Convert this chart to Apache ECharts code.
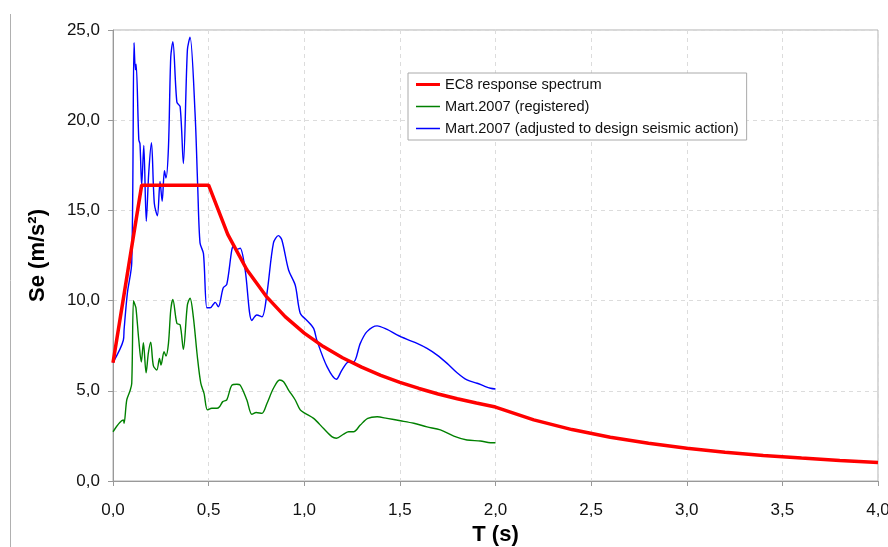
<!DOCTYPE html>
<html>
<head>
<meta charset="utf-8">
<script src="https://cdn.jsdelivr.net/npm/echarts@6/dist/echarts.min.js"></script>
<style>
  html, body { margin: 0; padding: 0; background: #fff; }
  #chart { width: 888px; height: 547px; }
</style>
</head>
<body>
<div id="chart"></div>
<script>
// EC8 design spectrum (T in s, Se in m/s²)
const ec8T = [0, 0.15, 0.5, 0.6, 0.7, 0.8, 0.9, 1.0, 1.1, 1.2, 1.3, 1.4, 1.5, 1.6, 1.7, 1.8, 1.9, 2.0,
  2.2, 2.4, 2.6, 2.8, 3.0, 3.2, 3.4, 3.6, 3.8, 4.0]
const ec8Se = [6.56, 16.4, 16.4, 13.67, 11.71, 10.25, 9.11, 8.2, 7.45, 6.83, 6.31, 5.86, 5.47, 5.13, 4.82, 4.56, 4.32, 4.1,
  3.39, 2.85, 2.43, 2.09, 1.82, 1.60, 1.42, 1.27, 1.14, 1.03]

// Mart.2007 registered record
const regT = [0, 0.054, 0.058, 0.072, 0.089, 0.098, 0.107, 0.114, 0.120, 0.135, 0.148, 0.159, 0.173, 0.185, 0.197,
  0.211, 0.229, 0.243, 0.251, 0.267, 0.277, 0.290, 0.302, 0.313, 0.334, 0.351, 0.368, 0.389, 0.403, 0.420,
  0.441, 0.459, 0.476, 0.494, 0.517, 0.543, 0.557, 0.574, 0.595, 0.621, 0.648, 0.665, 0.700, 0.726, 0.749,
  0.779, 0.805, 0.839, 0.871, 0.892, 0.918, 0.953, 0.979, 1.005, 1.049, 1.100, 1.144, 1.168, 1.206, 1.232,
  1.258, 1.293, 1.332, 1.381, 1.433, 1.503, 1.573, 1.642, 1.712, 1.782, 1.851, 1.921, 1.974, 2.0]
const regSe = [2.73, 3.38, 3.2, 4.5, 5.0, 5.4, 10.0, 9.8, 9.6, 7.8, 6.6, 7.66, 6.0, 7.1, 7.7,
  6.4, 6.15, 6.8, 6.43, 7.17, 6.93, 7.63, 9.48, 10.07, 8.74, 8.65, 7.3, 9.76, 10.13, 9.1,
  6.9, 5.42, 4.86, 3.94, 4.03, 4.03, 4.12, 4.4, 4.5, 5.3, 5.36, 5.32, 4.49, 3.7, 3.8,
  3.75, 4.3, 5.14, 5.6, 5.5, 5.04, 4.49, 3.94, 3.75, 3.47, 2.92, 2.46, 2.37, 2.6, 2.73,
  2.73, 3.1, 3.47, 3.56, 3.47, 3.34, 3.2, 3.0, 2.83, 2.49, 2.27, 2.22, 2.12, 2.12]

// Mart.2007 adjusted to design seismic action
const adjT = [0, 0.054, 0.058, 0.075, 0.098, 0.110, 0.117, 0.121, 0.135, 0.141, 0.150, 0.161, 0.174, 0.187, 0.201,
  0.216, 0.232, 0.246, 0.257, 0.269, 0.277, 0.290, 0.302, 0.313, 0.334, 0.351, 0.368, 0.389, 0.403, 0.429,
  0.443, 0.455, 0.473, 0.491, 0.508, 0.525, 0.534, 0.551, 0.576, 0.595, 0.621, 0.630, 0.648, 0.665, 0.691,
  0.726, 0.752, 0.779, 0.805, 0.839, 0.865, 0.883, 0.918, 0.953, 0.979, 1.014, 1.049, 1.066, 1.119, 1.168,
  1.197, 1.232, 1.258, 1.293, 1.328, 1.381, 1.433, 1.485, 1.538, 1.590, 1.642, 1.695, 1.747, 1.799, 1.851,
  1.904, 1.939, 1.974, 2.0]
const adjSe = [6.56, 7.8, 8.4, 10.4, 12.1, 24.3, 22.8, 23.1, 18.9, 18.7, 16.4, 18.6, 14.4, 17.1, 18.75,
  15.4, 14.7, 16.6, 15.5, 17.2, 16.8, 18.5, 23.5, 24.35, 21.0, 20.75, 17.6, 23.9, 24.6, 20.4,
  16.3, 13.2, 12.6, 9.6, 9.6, 9.8, 9.9, 9.66, 10.7, 10.9, 12.8, 13.0, 12.84, 12.9, 11.7,
  8.9, 9.2, 9.1, 10.4, 13.2, 13.6, 13.36, 11.7, 10.85, 9.3, 8.9, 8.46, 7.8, 6.34, 5.64,
  6.15, 6.6, 6.6, 7.63, 8.28, 8.6, 8.4, 8.1, 7.85, 7.63, 7.35, 6.98, 6.52, 6.0, 5.6,
  5.42, 5.27, 5.14, 5.1]

const xTicks = [0, 0.5, 1.0, 1.5, 2.0, 2.5, 3.0, 3.5, 4.0]
const yTicks = [0, 5, 10, 15, 20, 25]

const fontFamily = '"Liberation Sans", Arial, sans-serif'
const comma = v => v.toFixed(1).replace('.', ',')
const pairs = (xs, ys) => xs.map((x, i) => [x, ys[i]])

// legend line icons: tiny specks keep the box 12 high so the stroke stays thin
const thickIcon = 'path://M0,0h0.01v0.01h-0.01zM0,4.5h24v3h-24zM0,12h0.01v0.01h-0.01z'
const thinIcon = 'path://M0,0h0.01v0.01h-0.01zM0,5.3h24v1.4h-24zM0,12h0.01v0.01h-0.01z'

const chart = echarts.init(document.getElementById('chart'))

chart.setOption({
  animation: false,
  backgroundColor: '#fff',
  textStyle: { fontFamily },
  grid: {
    left: 113, right: 10, top: 30, bottom: 66,
    containLabel: false, outerBoundsMode: 'none',
    show: true, borderColor: '#b0b0b0', borderWidth: 1, backgroundColor: 'transparent'
  },
  graphic: [
    { type: 'line', shape: { x1: 10.5, y1: 14, x2: 10.5, y2: 547 }, style: { stroke: '#b0b0b0', lineWidth: 1 } }
  ],
  legend: {
    orient: 'vertical',
    left: 408, top: 73,
    padding: [4, 8, 4, 8],
    itemGap: 7,
    itemWidth: 24, itemHeight: 12,
    borderColor: '#aaa', borderWidth: 1, backgroundColor: '#fff',
    textStyle: { fontSize: 14.6, color: '#111', fontFamily },
    data: [
      { name: 'EC8 response spectrum', icon: thickIcon, itemStyle: { color: '#ff0000' } },
      { name: 'Mart.2007 (registered)', icon: thinIcon, itemStyle: { color: '#008000' } },
      { name: 'Mart.2007 (adjusted to design seismic action)', icon: thinIcon, itemStyle: { color: '#0000ff' } }
    ]
  },
  xAxis: {
    type: 'value',
    min: 0, max: 4, interval: 0.5,
    name: 'T (s)',
    nameLocation: 'middle',
    nameGap: 42,
    nameTextStyle: { fontSize: 22, fontWeight: 'bold', color: '#000', fontFamily },
    axisLine: { lineStyle: { color: '#999' } },
    axisTick: { show: true, length: 5, lineStyle: { color: '#999' } },
    axisLabel: { fontSize: 17, color: '#111', margin: 21, formatter: v => comma(v),
      customValues: xTicks },
    splitLine: { show: true, lineStyle: { color: '#dcdcdc', type: [4, 4] } }
  },
  yAxis: {
    type: 'value',
    min: 0, max: 25, interval: 5,
    name: 'Se (m/s²)',
    nameLocation: 'middle',
    nameGap: 64,
    nameTextStyle: { fontSize: 22, fontWeight: 'bold', color: '#000', fontFamily },
    axisLine: { show: true, lineStyle: { color: '#999' } },
    axisTick: { show: true, length: 5, lineStyle: { color: '#999' } },
    axisLabel: { fontSize: 17, color: '#111', margin: 13, formatter: v => comma(v),
      customValues: yTicks },
    splitLine: { show: true, lineStyle: { color: '#dcdcdc', type: [4, 4] } }
  },
  series: [
    {
      name: 'Mart.2007 (registered)',
      type: 'line',
      data: pairs(regT, regSe),
      symbol: 'none',
      smooth: 0.3,
      lineStyle: { color: '#008000', width: 1.4 },
      itemStyle: { color: '#008000' },
      z: 2
    },
    {
      name: 'Mart.2007 (adjusted to design seismic action)',
      type: 'line',
      data: pairs(adjT, adjSe),
      symbol: 'none',
      smooth: 0.3,
      lineStyle: { color: '#0000ff', width: 1.4 },
      itemStyle: { color: '#0000ff' },
      z: 3
    },
    {
      name: 'EC8 response spectrum',
      type: 'line',
      data: pairs(ec8T, ec8Se),
      symbol: 'none',
      lineStyle: { color: '#ff0000', width: 3.5 },
      itemStyle: { color: '#ff0000' },
      z: 4
    }
  ]
})
</script>
</body>
</html>
